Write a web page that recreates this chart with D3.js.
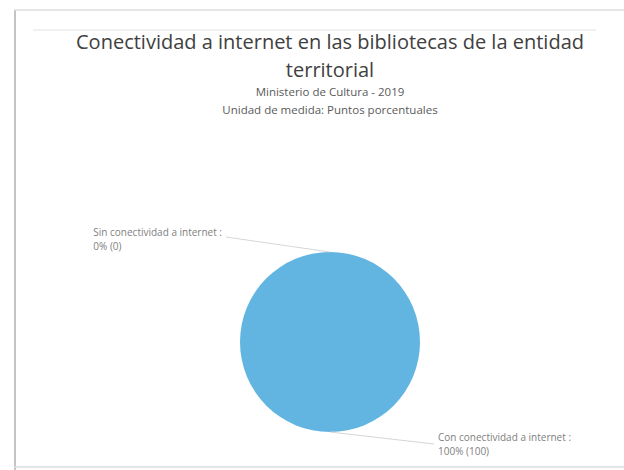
<!DOCTYPE html>
<html><head><meta charset="utf-8">
<script src="https://cdn.jsdelivr.net/npm/d3@7"></script>
<style>body{margin:0;background:#fff}svg{display:block}</style>
</head><body>
<script>
const categories = ["Sin conectividad a internet", "Con conectividad a internet"];
const values = [0, 100];
const titleLines = ["Conectividad a internet en las bibliotecas de la entidad", "territorial"];
const subtitleLines = ["Ministerio de Cultura - 2019", "Unidad de medida: Puntos porcentuales"];
const colors = ["#3b7fc4", "#62b5e0"];

const W = 624, H = 470;
const svg = d3.select("body").append("svg").attr("width", W).attr("height", H);
const font = "'Open Sans', 'Noto Sans', sans-serif";

// frame
svg.append("line").attr("x1", 15).attr("x2", 15).attr("y1", 10).attr("y2", H).attr("stroke", "#c4c4c4").attr("stroke-width", 2);
svg.append("line").attr("x1", 14).attr("x2", W).attr("y1", 10).attr("y2", 10).attr("stroke", "#dedede").attr("stroke-width", 1.5);
svg.append("line").attr("x1", 33).attr("x2", 596).attr("y1", 30).attr("y2", 30).attr("stroke", "#ececec").attr("stroke-width", 1.5);
svg.append("line").attr("x1", 14).attr("x2", W).attr("y1", 467).attr("y2", 467).attr("stroke", "#dcdcdc").attr("stroke-width", 1.5);

const cx = 330;
svg.selectAll("text.title").data(titleLines).join("text").attr("class", "title")
  .attr("x", cx).attr("y", (d, i) => 49 + i * 27.6).attr("text-anchor", "middle")
  .attr("font-family", font).attr("font-size", 20).attr("fill", "#404040").text(d => d);
svg.selectAll("text.sub").data(subtitleLines).join("text").attr("class", "sub")
  .attr("x", cx).attr("y", (d, i) => 96 + i * 18).attr("text-anchor", "middle")
  .attr("font-family", font).attr("font-size", 11.5).attr("fill", "#5a5a5a").text(d => d);

const cy = 342, r = 90;
const pie = d3.pie().sort(null).value(d => d);
const arcs = pie(values);
const arc = d3.arc().innerRadius(0).outerRadius(r);
const g = svg.append("g").attr("transform", `translate(${cx},${cy})`);
g.selectAll("path").data(arcs).join("path").attr("d", arc).attr("fill", (d, i) => colors[i]);

// labels
const fmt = d3.format(".0f");
arcs.forEach((d, i) => {
  const mid = (d.startAngle + d.endAngle) / 2;
  const px = Math.sin(mid) * r, py = -Math.cos(mid) * r;
  const side = (mid > 1e-6 && mid <= Math.PI + 1e-6) ? 1 : -1;
  const lx = px + side * 104, ly = py + side * 12 - (side < 0 ? 3 : 0);
  g.append("polyline")
    .attr("points", [[px, py], [lx, ly]].map(p => p.join(",")).join(" "))
    .attr("fill", "none").attr("stroke", "#d6d6d6").attr("stroke-width", 1);
  const t = g.append("text").attr("y", ly - (side > 0 ? 3 : 1))
    .attr("text-anchor", "start")
    .attr("font-family", font).attr("font-size", 10).attr("fill", "#808080");
  const t1 = t.append("tspan").text(categories[i] + " :");
  const t2 = t.append("tspan").attr("dy", 14).text(fmt(d.value) + "% (" + d.value + ")");
  const w = t1.node().getComputedTextLength();
  const x0 = side > 0 ? lx + 4 : lx - 4 - w;
  t1.attr("x", x0); t2.attr("x", x0);
});
</script>
</body></html>
